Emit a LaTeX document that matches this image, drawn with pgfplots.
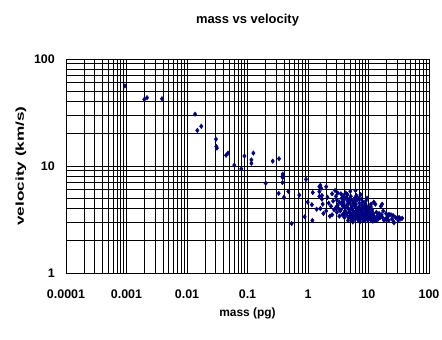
\documentclass[border=0pt]{standalone}
\usepackage{fontspec}
\setmainfont{Liberation Sans}
\usepackage{graphicx}
\usepackage{pgfplots}
\pgfplotsset{compat=1.18}
\definecolor{navyblue}{RGB}{0,0,128}
\pgfplotstableread{
m v
0.00094 56
0.00197 42
0.00218 43.5
0.00386 42.5
0.0136 30.5
0.0148 21.5
0.0172 23.5
0.0301 17.8
0.0305 15.2
0.0312 14.7
0.0442 12.6
0.0476 13.2
0.0605 10.2
0.079 9.4
0.089 12.4
0.116 11.4
0.116 10.6
0.125 13.2
0.200 6.9
0.261 11.1
0.332 11.7
0.382 8.4
0.385 8.1
0.382 7.8
0.378 7.0
0.328 5.55
0.401 5.1
0.473 5.8
0.537 2.9
0.718 5.35
0.927 7.5
0.882 3.35
0.989 4.6
1.16 4.35
1.18 3.1
1.20 5.65
1.39 3.95
1.54 6.4
1.54 5.75
1.54 5.2
1.6 6.6
1.65 6.2
1.7 5.3
1.7 4.9
1.75 4.4
1.6 4.0
1.8 3.6
2.0 6.4
2.1 5.1
2.2 4.5
2.0 3.8
2.3 3.4
2.5 5.5
2.6 4.7
2.4 4.2
2.7 3.9
2.5 3.5
2.8 5.9
2.9 5.2
3.0 4.8
3.1 4.3
3.2 4.0
3.0 3.7
3.3 3.4
3.1 5.6
3.3 4.6
2.9 4.1
3.5 5.5
3.6 5.0
3.7 4.6
3.8 4.2
3.5 3.9
3.9 3.6
4.0 3.3
3.6 4.4
3.8 5.3
4.0 4.9
3.7 3.5
4.2 5.6
4.3 5.1
4.5 4.7
4.4 4.3
4.6 4.0
4.8 3.7
4.3 3.5
4.7 3.3
4.5 5.4
4.9 4.5
4.2 4.1
4.6 3.1
5.0 5.8
5.1 5.2
5.3 4.8
5.5 4.4
5.2 4.1
5.6 3.8
5.4 3.5
5.8 3.3
5.0 3.9
5.7 4.6
5.9 5.0
5.3 3.2
5.5 3.0
6.1 5.9
6.3 5.3
6.5 4.8
6.2 4.4
6.8 4.1
6.4 3.9
7.0 3.6
6.6 3.4
6.9 3.2
7.1 4.5
6.0 3.7
6.7 5.0
7.2 3.0
7.4 5.4
7.6 4.9
7.8 4.3
8.0 4.0
7.5 3.8
8.3 3.6
8.5 3.4
7.9 3.2
8.7 3.1
8.1 4.6
8.6 3.9
9.0 4.7
9.3 4.2
9.6 3.9
10.0 3.6
9.2 3.5
10.3 3.3
9.8 3.1
10.5 4.0
9.5 5.0
11.0 4.4
11.5 3.9
12.0 3.6
11.2 3.4
12.5 3.2
11.8 3.05
12.2 4.6
13.0 4.4
13.5 3.7
14.0 3.4
14.5 3.2
15.0 3.6
13.2 3.1
16.0 4.2
16.5 3.5
17.0 3.3
18.0 3.1
17.5 3.8
16.8 4.4
19.5 3.6
20.5 3.3
21.5 3.1
22.0 3.5
21.3 3.5
23.5 3.5
24.5 3.2
26.0 3.0
25.5 3.45
26.4 2.95
28.0 3.3
30.0 3.25
32.0 3.3
34.0 3.2
36.0 3.25
31.0 3.1
4.1 3.8
4.4 3.6
4.9 3.4
5.1 3.6
5.2 3.3
5.6 3.15
5.9 3.5
6.2 3.3
6.5 3.6
6.7 3.15
7.0 3.4
7.3 3.25
7.7 3.5
8.0 3.3
8.2 3.15
8.8 3.5
9.0 3.25
9.4 3.4
9.9 3.2
10.2 3.5
10.8 3.15
11.2 3.3
11.6 3.15
12.3 3.4
13.0 3.25
13.8 3.15
6.0 4.2
6.9 3.8
7.3 4.0
8.4 4.1
9.1 3.8
9.8 3.7
10.8 3.7
5.4 4.0
4.6 4.4
3.4 3.8
3.9 4.5
4.8 4.9
8.9 4.4
10.9 4.2
15.5 3.3
19.0 3.2
}\massvel
\begin{document}
\begin{tikzpicture}
\useasboundingbox (-66bp,-67bp) rectangle (376bp,273bp);
\begin{axis}[
  at={(0,0)}, anchor=south west,
  scale only axis,
  width=363bp, height=214bp,
  xmode=log, ymode=log,
  xmin=0.0001, xmax=100, ymin=1, ymax=100,
  xtick={0.0001,0.001,0.01,0.1,1,10,100},
  xticklabels={0.0001,0.001,0.01,0.1,1,10,100},
  ytick={1,10,100},
  yticklabels={1,10,100},
  minor xtick={0.0002,0.0003,0.0004,0.0005,0.0006,0.0007,0.0008,0.0009,
    0.002,0.003,0.004,0.005,0.006,0.007,0.008,0.009,
    0.02,0.03,0.04,0.05,0.06,0.07,0.08,0.09,
    0.2,0.3,0.4,0.5,0.6,0.7,0.8,0.9,
    2,3,4,5,6,7,8,9,
    20,30,40,50,60,70,80,90},
  minor ytick={2,3,4,5,6,7,8,9,20,30,40,50,60,70,80,90},
  grid=both,
  major grid style={black, line width=0.8bp},
  minor grid style={black, line width=0.8bp},
  axis line style={black, line width=0.9bp},
  major tick length=0pt, minor tick length=0pt,
  /pgf/number format/assume math mode=true,
  xticklabel style={font=\bfseries\fontsize{12.5}{12.5}\selectfont, anchor=center, yshift=-21bp},
  yticklabel style={font=\bfseries\fontsize{12.5}{12.5}\selectfont, anchor=east, inner sep=0pt, xshift=-11bp},
  every axis title/.style={at={(axis description cs:0.5,1.182)}, anchor=center,
    font=\bfseries\fontsize{13}{15}\selectfont},
  every axis x label/.style={at={(axis description cs:0.5,-0.19)}, anchor=center,
    font=\bfseries\fontsize{12}{14}\selectfont},
  every axis y label/.style={at={(axis description cs:-0.124,0.5)}, anchor=center, rotate=90,
    font=\bfseries\fontsize{11.5}{13}\selectfont},
  title={mass vs velocity},
  xlabel={mass (pg)},
  ylabel={\scalebox{1.5}[1]{velocity (km/s)}},
  clip=false,
]
\addplot[only marks, mark=diamond*, mark size=2.3bp, color=navyblue,
  mark options={fill=navyblue, draw=navyblue}] table[x=m, y=v] {\massvel};
\end{axis}
\end{tikzpicture}
\end{document}
